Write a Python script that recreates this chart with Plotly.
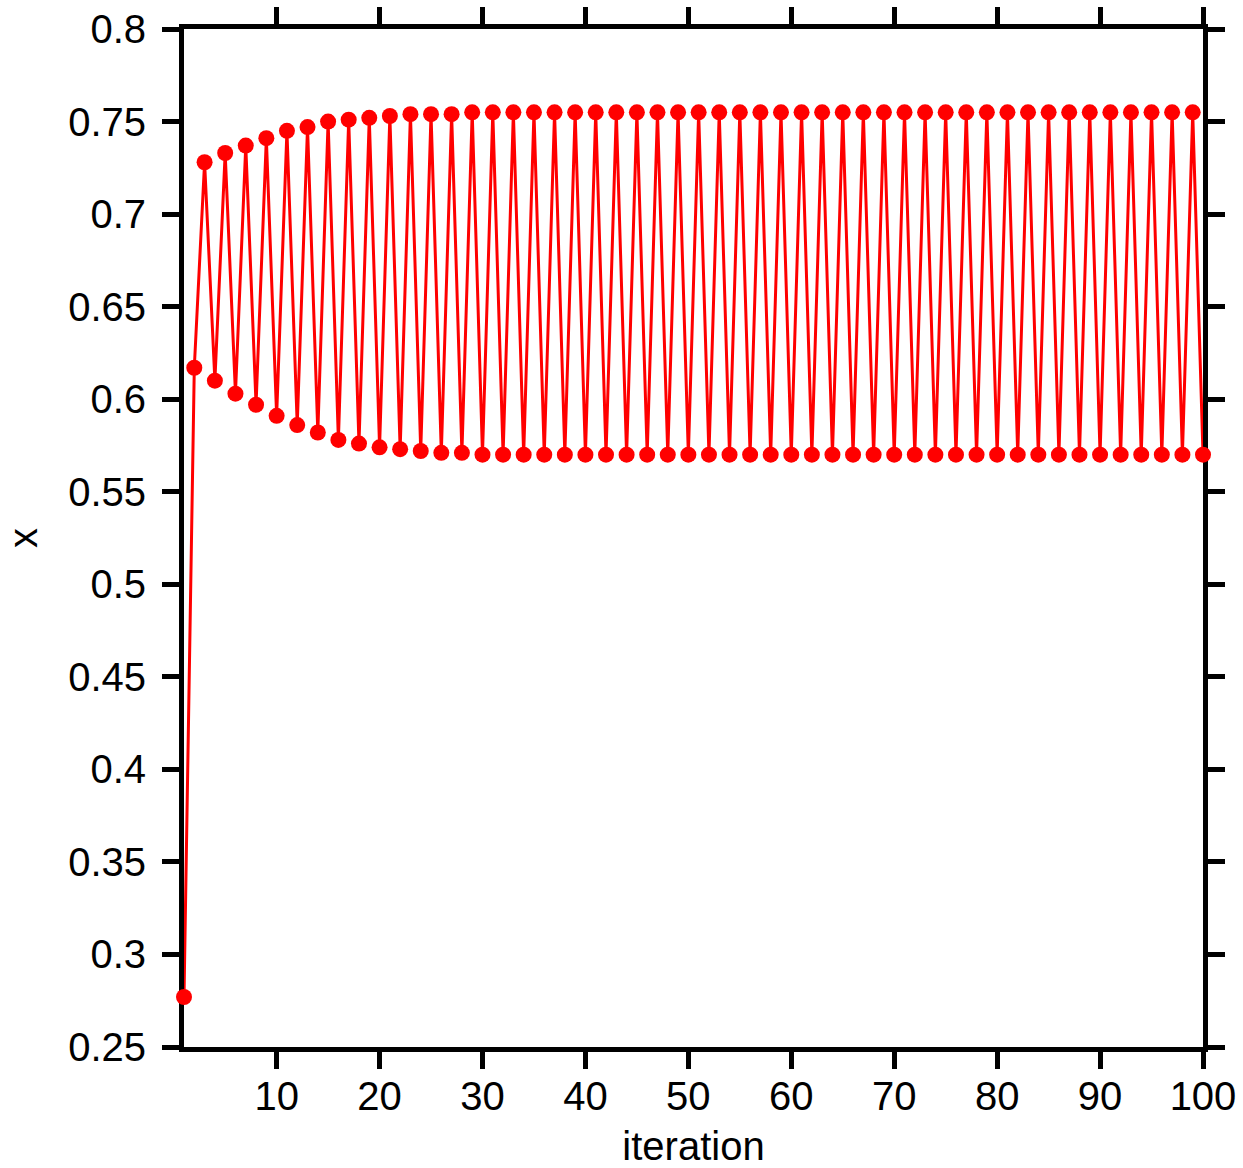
import plotly.graph_objects as go

# iteration index and the orbit values x_n
iteration = list(range(1, 101))
x_values = [
    0.277, 0.617, 0.728, 0.610, 0.733, 0.603, 0.737, 0.597, 0.741, 0.591,
    0.745, 0.586, 0.747, 0.582, 0.750, 0.578, 0.751, 0.576, 0.752, 0.574,
    0.753, 0.573, 0.754, 0.572, 0.754, 0.571, 0.754, 0.571, 0.755, 0.570,
    0.755, 0.570, 0.755, 0.570, 0.755, 0.570, 0.755, 0.570, 0.755, 0.570,
    0.755, 0.570, 0.755, 0.570, 0.755, 0.570, 0.755, 0.570, 0.755, 0.570,
    0.755, 0.570, 0.755, 0.570, 0.755, 0.570, 0.755, 0.570, 0.755, 0.570,
    0.755, 0.570, 0.755, 0.570, 0.755, 0.570, 0.755, 0.570, 0.755, 0.570,
    0.755, 0.570, 0.755, 0.570, 0.755, 0.570, 0.755, 0.570, 0.755, 0.570,
    0.755, 0.570, 0.755, 0.570, 0.755, 0.570, 0.755, 0.570, 0.755, 0.570,
    0.755, 0.570, 0.755, 0.570, 0.755, 0.570, 0.755, 0.570, 0.755, 0.570,
]

x_ticks = [10, 20, 30, 40, 50, 60, 70, 80, 90, 100]
y_ticks = [0.25, 0.3, 0.35, 0.4, 0.45, 0.5, 0.55, 0.6, 0.65, 0.7, 0.75, 0.8]
y_tick_text = ["0.25", "0.3", "0.35", "0.4", "0.45", "0.5", "0.55", "0.6",
               "0.65", "0.7", "0.75", "0.8"]

FONT = "Liberation Sans, Arial, sans-serif"

fig = go.Figure()
fig.add_trace(go.Scatter(
    x=iteration, y=x_values,
    mode="lines+markers",
    line=dict(color="#ff0000", width=3),
    marker=dict(color="#ff0000", size=16),
    cliponaxis=False,
    showlegend=False,
))

axis_common = dict(
    showline=True, linecolor="black", linewidth=5, mirror="allticks",
    ticks="outside", ticklen=17, tickwidth=5, tickcolor="black",
    showgrid=False, zeroline=False, layer="below traces", automargin=False,
    tickfont=dict(family=FONT, size=40, color="black"),
)

fig.update_xaxes(
    range=[1, 100], tickvals=x_ticks,
    ticklabelstandoff=-7,
    title=dict(text="iteration", font=dict(family=FONT, size=40, color="black"), standoff=20),
    **axis_common,
)
fig.update_yaxes(
    range=[0.25, 0.8], tickvals=y_ticks, ticktext=y_tick_text,
    ticklabelstandoff=8,
    title=dict(text="x", font=dict(family=FONT, size=40, color="black"), standoff=20),
    **axis_common,
)

fig.update_layout(
    width=1243, height=1168,
    margin=dict(l=184, r=40, t=29, b=121),
    plot_bgcolor="white", paper_bgcolor="white",
)

fig.write_html("out.html")
